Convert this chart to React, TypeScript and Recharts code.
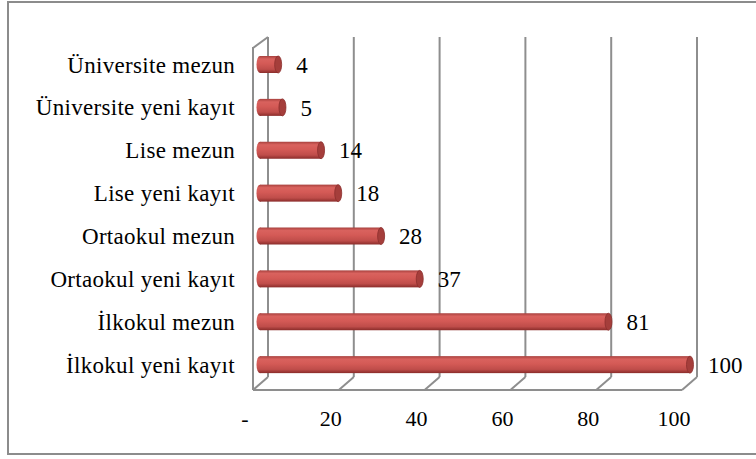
import { BarChart, Bar, XAxis, YAxis, CartesianGrid, LabelList, Customized } from 'recharts';

const categories = [
  'Üniversite mezun',
  'Üniversite yeni kayıt',
  'Lise mezun',
  'Lise yeni kayıt',
  'Ortaokul mezun',
  'Ortaokul yeni kayıt',
  'İlkokul mezun',
  'İlkokul yeni kayıt',
];
const values = [4, 5, 14, 18, 28, 37, 81, 100];
const xTicks = [0, 20, 40, 60, 80, 100];

const data = categories.map((name, i) => ({ name, value: values[i] }));

const FONT = 'Liberation Serif, Times New Roman, serif';
const GRID = '#8e8e8e';

const Cylinder = (props: any) => {
  const { x, y, width, height } = props;
  const ry = height / 2;
  const rx = 3.5;
  const cy = y + ry;
  return (
    <g>
      <ellipse cx={x - 1} cy={cy} rx={rx} ry={ry} fill="url(#cyl)" />
      <rect x={x - 1} y={y} width={width + 1} height={height} fill="url(#cyl)" />
      <ellipse cx={x + width} cy={cy} rx={rx} ry={ry} fill="#a53e3b" stroke="#8c2f2d" strokeWidth={0.8} />
    </g>
  );
};

const XTick = (props: any) => {
  const { x, y, payload } = props;
  return (
    <g>
      <line x1={x + 7} y1={y - 9} x2={x - 8} y2={y + 4} stroke={GRID} strokeWidth={2} />
      <text x={x - 16} y={y + 32} textAnchor="middle" dominantBaseline="central"
        fontFamily={FONT} fontSize={22} fill="#000">
        {payload.value === 0 ? '-' : payload.value}
      </text>
    </g>
  );
};

// back-wall grid lines sit 7px behind the bar plane
const gridX = (p: any) => {
  const ax = p?.xAxis;
  if (ax && typeof ax.scale === 'function') return xTicks.map((t) => ax.scale(t) + 7);
  const left = p?.offset?.left ?? 261;
  const w = p?.offset?.width ?? 429;
  return xTicks.map((t) => left + (t / 100) * w + 7);
};

const App = () => (
  <div style={{ position: 'absolute', left: 0, top: 0, width: 756, height: 459, background: '#fff', overflow: 'hidden' }}>
    <div style={{ position: 'absolute', left: 7, top: 1, width: 800, height: 450, border: '2px solid #8c8c8c' }} />
    <div style={{ position: 'absolute', left: 0, top: 0 }}>
      <BarChart width={756} height={459} data={data} layout="vertical"
        margin={{ top: 43, right: 66, left: 0, bottom: 0 }}>
        <defs>
          <linearGradient id="cyl" x1="0" y1="0" x2="0" y2="1">
            <stop offset="0%" stopColor="#a8413e" />
            <stop offset="18%" stopColor="#d9625e" />
            <stop offset="45%" stopColor="#d45a56" />
            <stop offset="78%" stopColor="#bf4d4a" />
            <stop offset="100%" stopColor="#8a2c2a" />
          </linearGradient>
        </defs>
        <CartesianGrid horizontal={false} stroke={GRID} strokeWidth={2} y={37} height={340}
          verticalCoordinatesGenerator={gridX} />
        <XAxis type="number" domain={[0, 100]} ticks={xTicks} height={73}
          tickSize={0} tickMargin={0} tickLine={false}
          axisLine={{ stroke: GRID, strokeWidth: 2, transform: 'translate(-8,4)' } as any}
          tick={<XTick />} interval={0} />
        <YAxis type="category" dataKey="name" width={261} tickSize={6} tickMargin={20} tickLine={false}
          axisLine={{ stroke: GRID, strokeWidth: 2, transform: 'translate(-8,4)' } as any}
          tick={{ fill: '#000', fontSize: 23, fontFamily: FONT, letterSpacing: 0.3 }} interval={0} />
        <Customized component={<line x1={253} y1={48} x2={268} y2={37} stroke={GRID} strokeWidth={2} />} />
        <Bar dataKey="value" barSize={17} shape={<Cylinder />} isAnimationActive={false}>
          <LabelList dataKey="value" position="right" offset={18}
            style={{ fill: '#000', fontSize: 23, fontFamily: FONT }} />
        </Bar>
      </BarChart>
    </div>
  </div>
);

export default App;
